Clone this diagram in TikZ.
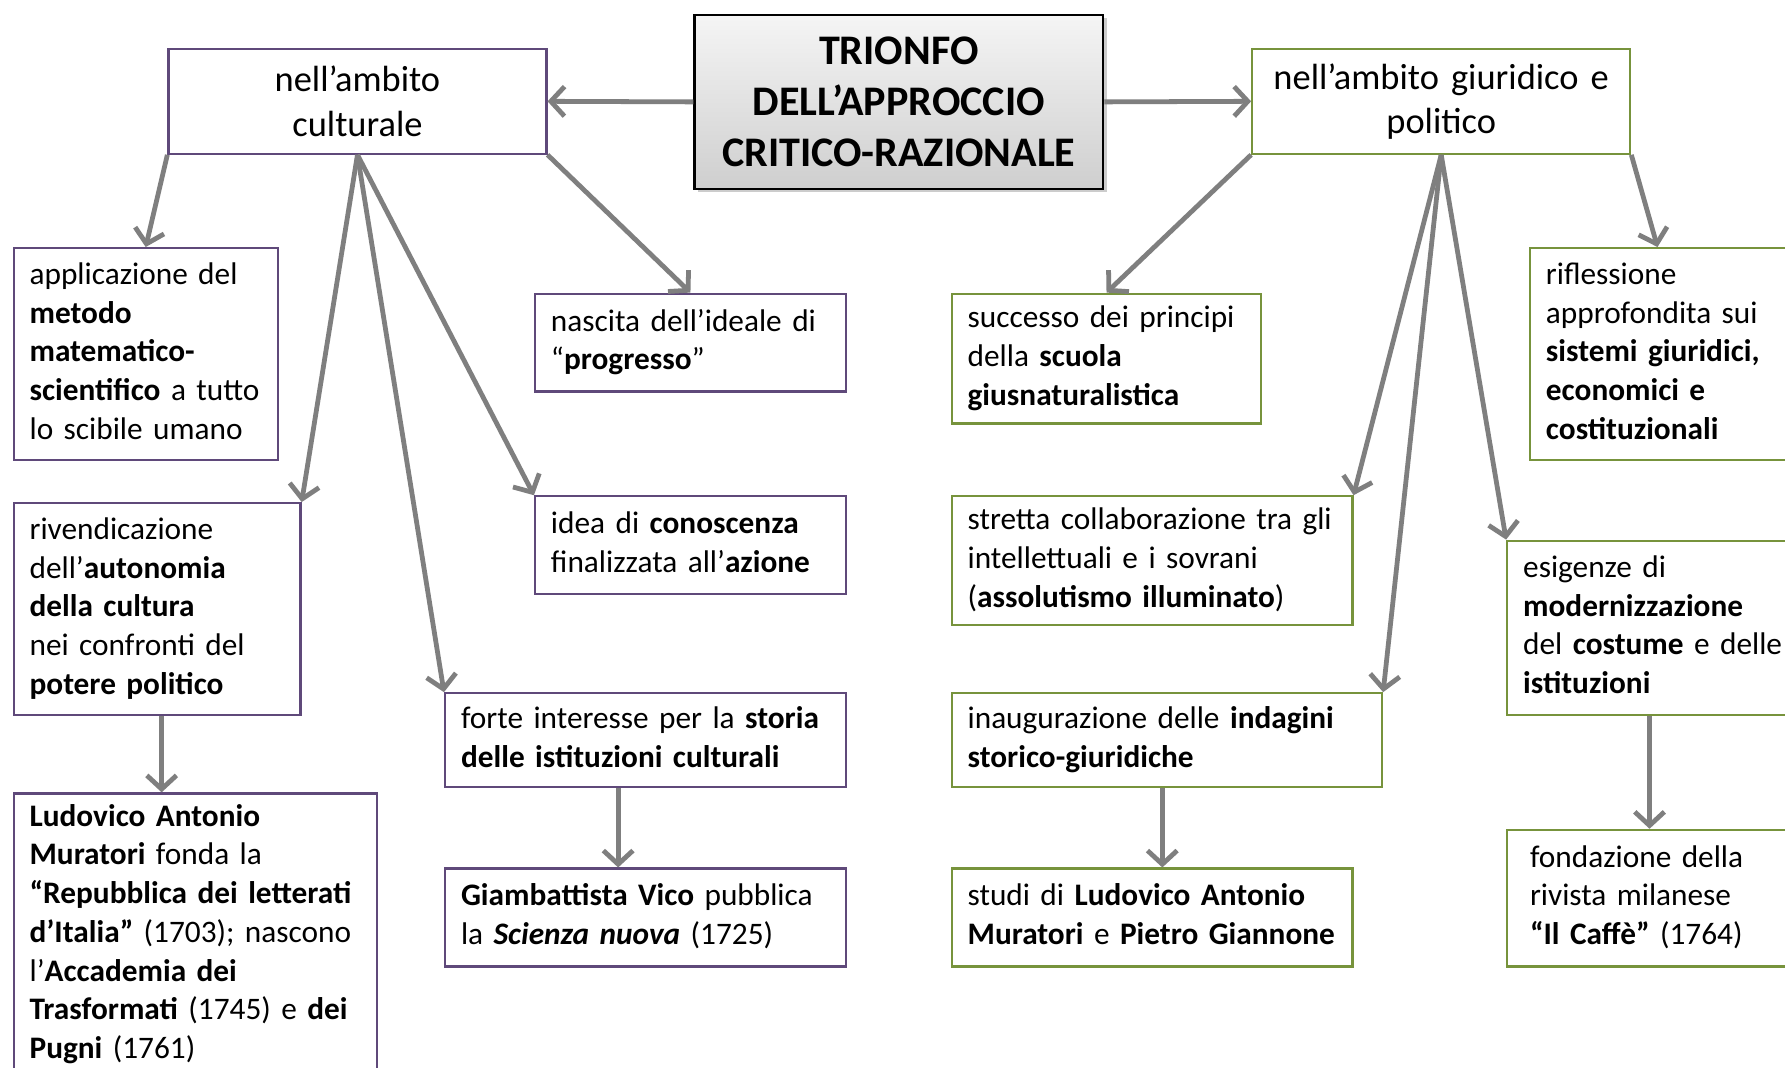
\documentclass[tikz,border=0pt]{standalone}
\usepackage{fontspec}
\setmainfont{Carlito}
\usetikzlibrary{arrows.meta,shadows,calc}
\definecolor{purp}{HTML}{5F497A}
\definecolor{olive}{HTML}{77933C}
\definecolor{arrgray}{HTML}{7F7F7F}
\newcommand{\tl}[1]{\begin{tabular}{@{}l@{}}#1\end{tabular}}
\tikzset{
  base/.style={draw, line width=2pt, fill=white, anchor=north west, inner ysep=0pt, inner xsep=14pt, align=left, font=\fontsize{27.5}{34}\selectfont},
  pbox/.style={base, draw=purp},
  gbox/.style={base, draw=olive},
  arr/.style={draw=arrgray, line width=4.2pt, -{Straight Barb[length=12pt,width=26pt]}},
}
\begin{document}
\begin{tikzpicture}[x=1pt,y=-1pt]
\clip (0,0) rectangle (1568,938);
\fill[white] (0,0) rectangle (1568,938);

% title
\node[draw=black, line width=2pt, top color=gray!8, bottom color=gray!38,
  drop shadow={shadow xshift=3pt, shadow yshift=-3pt, opacity=0.4},
  anchor=north west, minimum width=359pt, minimum height=153pt, inner sep=0pt,
  align=center, font=\fontsize{37}{45}\selectfont\bfseries] (T) at (609,12)
  {TRIONFO\\DELL’APPROCCIO\\CRITICO-RAZIONALE};

% headers
\node[pbox, minimum width=332pt, minimum height=92pt, text width=304pt, align=center,
  font=\fontsize{32}{39}\selectfont] (LH) at (147,42) {nell’ambito\\culturale};
\node[gbox, minimum width=332pt, minimum height=92pt, text width=304pt, align=center,
  font=\fontsize{32}{39}\selectfont] (RH) at (1099,42) {nell’ambito giuridico e\\politico};

% left column
\node[pbox, minimum height=186pt, text width=204pt] (A1) at (11,217)
  {\tl{applicazione del\\\textbf{metodo}\\\textbf{matematico-}\\\textbf{scientifico} a tutto\\lo scibile umano}};
\node[pbox, minimum height=186pt, text width=224pt] (A2) at (11,441)
  {\tl{rivendicazione\\dell’\textbf{autonomia}\\\textbf{della cultura}\\nei confronti del\\\textbf{potere politico}}};
\node[pbox, minimum height=248pt, text width=291pt] (A3) at (11,696)
  {\tl{\textbf{Ludovico Antonio}\\\textbf{Muratori} fonda la\\\textbf{“Repubblica dei letterati}\\\textbf{d’Italia”} (1703); nascono\\l’\textbf{Accademia dei}\\\textbf{Trasformati} (1745) e \textbf{dei}\\\textbf{Pugni} (1761)}};

% middle-left column
\node[pbox, minimum height=86pt, text width=245pt] (B1) at (469,257)
  {\tl{nascita dell’ideale di\\“\textbf{progresso}”}};
\node[pbox, minimum height=86pt, text width=245pt] (B2) at (469,435)
  {\tl{idea di \textbf{conoscenza}\\finalizzata all’\textbf{azione}}};
\node[pbox, minimum height=82pt, text width=324pt] (B3) at (390,608)
  {\tl{forte interesse per la \textbf{storia}\\\textbf{delle istituzioni culturali}}};
\node[pbox, minimum height=86pt, text width=324pt] (B4) at (390,762)
  {\tl{\textbf{Giambattista Vico} pubblica\\la \textbf{\textit{Scienza nuova}} (1725)}};

% middle-right column
\node[gbox, minimum height=114pt, text width=244pt] (C1) at (835,257)
  {\tl{successo dei principi\\della \textbf{scuola}\\\textbf{giusnaturalistica}}};
\node[gbox, minimum height=113pt, text width=324pt] (C2) at (835,435)
  {\tl{stretta collaborazione tra gli\\intellettuali e i sovrani\\(\textbf{assolutismo illuminato})}};
\node[gbox, minimum height=82pt, text width=350pt] (C3) at (835,608)
  {\tl{inaugurazione delle \textbf{indagini}\\\textbf{storico-giuridiche}}};
\node[gbox, minimum height=86pt, text width=324pt] (C4) at (835,762)
  {\tl{studi di \textbf{Ludovico Antonio}\\\textbf{Muratori} e \textbf{Pietro Giannone}}};

% right column
\node[gbox, minimum height=186pt, text width=230pt] (D1) at (1343,217)
  {\tl{riflessione\\approfondita sui\\\textbf{sistemi giuridici,}\\\textbf{economici e}\\\textbf{costituzionali}}};
\node[gbox, minimum height=153pt, text width=250pt] (D2) at (1323,474)
  {\tl{esigenze di\\\textbf{modernizzazione}\\del \textbf{costume} e delle\\\textbf{istituzioni}}};
\node[gbox, minimum height=120pt, text width=244pt, inner xsep=20pt] (D3) at (1323,728)
  {\tl{fondazione della\\rivista milanese\\\textbf{“Il Caffè”} (1764)}};

% connectors
\draw[arr] (T.west) -- (LH.east);
\draw[arr] (T.east) -- (RH.west);

\draw[arr] (LH.south west) -- (A1.north);
\draw[arr] (LH.south) -- (A2.north east);
\draw[arr] (LH.south) -- (B3.north west);
\draw[arr] (LH.south) -- (B2.north west);
\draw[arr] (LH.south east) -- (B1.north);
\draw[arr] ([xshift=131pt]A2.south west) -- ([xshift=131pt]A2.south west |- A3.north);
\draw[arr] ([xshift=153pt]B3.south west) -- ([xshift=153pt]B3.south west |- B4.north);

\draw[arr] (RH.south west) -- (C1.north);
\draw[arr] (RH.south) -- (C2.north east);
\draw[arr] (RH.south) -- (C3.north east);
\draw[arr] (RH.south) -- (D2.north west);
\draw[arr] (RH.south east) -- ([xshift=113pt]D1.north west);
\draw[arr] ([xshift=186pt]C3.south west) -- ([xshift=186pt]C3.south west |- C4.north);
\draw[arr] ([xshift=126pt]D2.south west) -- ([xshift=126pt]D2.south west |- D3.north);
\end{tikzpicture}
\end{document}
